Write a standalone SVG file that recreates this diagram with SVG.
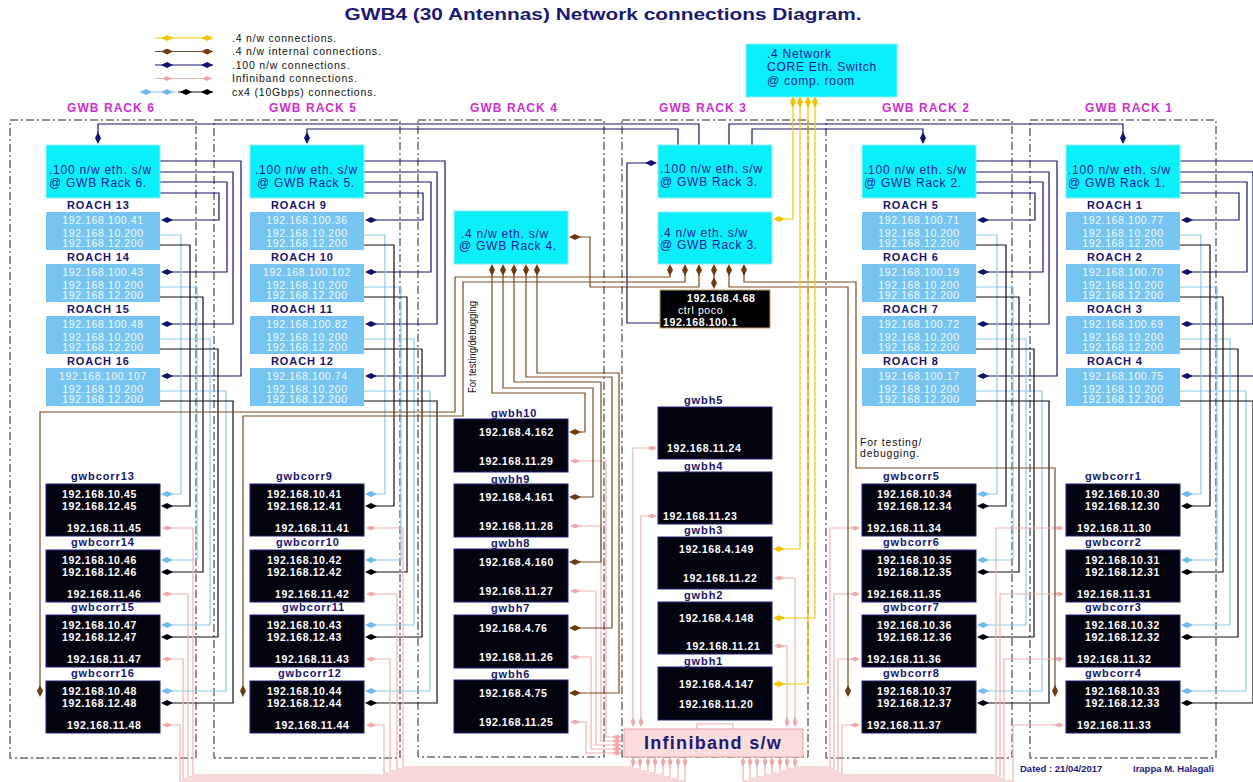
<svg xmlns="http://www.w3.org/2000/svg" width="1253" height="782" viewBox="0 0 1253 782">
<defs>
<style>
text{font-family:"Liberation Sans",Arial,sans-serif}
.sw{fill:#0aeffa;stroke:#8feef5;stroke-width:1}
.ro{fill:#76c5f0}
.bk{fill:#030310;stroke:#20207a;stroke-width:1}
.swt{font-size:12px;letter-spacing:0.75px;fill:#1c1c96}
.ip{font-size:10.5px;letter-spacing:0.6px;fill:#f4faff}
.ipb{font-size:10.5px;letter-spacing:0.6px;fill:#fff;font-weight:bold}
.lbl{font-size:11px;font-weight:bold;letter-spacing:0.9px;fill:#16166a}
.rk{font-size:12px;font-weight:bold;letter-spacing:1.05px;fill:#cc30cc;text-anchor:middle}
.lg{font-size:10.5px;letter-spacing:0.8px;fill:#111}
.rack{fill:none;stroke:#222;stroke-width:1;stroke-dasharray:8,3,2,3}
.c{fill:none;stroke-width:1.2}
.nv{stroke:#14146e;marker-end:url(#mN)}
.cy{stroke:#8ccbe8;marker-end:url(#mC)}
.bl{stroke:#111;marker-end:url(#mK)}
.pk{stroke:#f0b2b2;marker-start:url(#mP);marker-end:url(#mP)}
.br{stroke:#7a4a20;marker-start:url(#mB);marker-end:url(#mB)}
.ye{stroke:#f0c800;marker-start:url(#mY);marker-end:url(#mY)}
</style>
<marker id="mN" viewBox="-6 -3 12 6" refX="0" refY="0" markerWidth="12" markerHeight="6" markerUnits="userSpaceOnUse" orient="auto"><path d="M-6,0L0,-3L6,0L0,3Z" fill="#14146e"/></marker>
<marker id="mC" viewBox="-6 -3 12 6" refX="0" refY="0" markerWidth="12" markerHeight="6" markerUnits="userSpaceOnUse" orient="auto"><path d="M-6,0L0,-3L6,0L0,3Z" fill="#6ebce8"/></marker>
<marker id="mK" viewBox="-6 -3 12 6" refX="0" refY="0" markerWidth="12" markerHeight="6" markerUnits="userSpaceOnUse" orient="auto"><path d="M-6,0L0,-3L6,0L0,3Z" fill="#000"/></marker>
<marker id="mB" viewBox="-6 -3 12 6" refX="0" refY="0" markerWidth="12" markerHeight="6" markerUnits="userSpaceOnUse" orient="auto"><path d="M-6,0L0,-3L6,0L0,3Z" fill="#6e3a12"/></marker>
<marker id="mY" viewBox="-6 -3 12 6" refX="0" refY="0" markerWidth="12" markerHeight="6" markerUnits="userSpaceOnUse" orient="auto"><path d="M-6,0L0,-3L6,0L0,3Z" fill="#f0c400"/></marker>
<marker id="mP" viewBox="-5 -2.5 10 5" refX="0" refY="0" markerWidth="10" markerHeight="5" markerUnits="userSpaceOnUse" orient="auto"><path d="M-5,0L0,-2.5L5,0L0,2.5Z" fill="#eeaaaa"/></marker>
</defs>
<rect width="1253" height="782" fill="#fff"/>

<g id="title"><text x="603" y="20" text-anchor="middle" font-size="16" font-weight="bold" fill="#1a1a70" textLength="517" lengthAdjust="spacingAndGlyphs">GWB4 (30 Antennas) Network connections Diagram.</text></g>

<g id="legend">
<path class="c" stroke="#f0c800" marker-mid="url(#mY)" d="M155,38L167,38L207,38L213,38"/>
<path class="c" stroke="#7a4a20" marker-mid="url(#mB)" d="M155,51.5L167,51.5L207,51.5L213,51.5"/>
<path class="c" stroke="#14146e" marker-mid="url(#mN)" d="M155,65L167,65L207,65L213,65"/>
<path class="c" stroke="#f0b2b2" marker-mid="url(#mP)" d="M155,78.5L167,78.5L207,78.5L213,78.5"/>
<path class="c" stroke="#8ccbe8" marker-mid="url(#mC)" d="M140,92L146,92L167,92L177,92"/>
<path class="c" stroke="#111" marker-mid="url(#mK)" d="M178,92L186,92L207,92L213,92"/>
<text class="lg" x="232" y="41.5">.4 n/w connections.</text>
<text class="lg" x="232" y="55">.4 n/w internal connections.</text>
<text class="lg" x="232" y="68.5">.100 n/w connections.</text>
<text class="lg" x="232" y="82">Infiniband connections.</text>
<text class="lg" x="232" y="95.5">cx4 (10Gbps) connections.</text>
</g>

<g id="racks">
<g id="rack6"><rect class="rack" x="10" y="120" width="186" height="638"/><text class="rk" x="111" y="112">GWB RACK 6</text></g>
<g id="rack5"><rect class="rack" x="214" y="120" width="186" height="638"/><text class="rk" x="313" y="112">GWB RACK 5</text></g>
<g id="rack4"><rect class="rack" x="418" y="120" width="186" height="637"/><text class="rk" x="514" y="112">GWB RACK 4</text></g>
<g id="rack3"><rect class="rack" x="622" y="120" width="186" height="637"/><text class="rk" x="703" y="112">GWB RACK 3</text></g>
<g id="rack2"><rect class="rack" x="826" y="120" width="186" height="638"/><text class="rk" x="926" y="112">GWB RACK 2</text></g>
<g id="rack1"><rect class="rack" x="1030" y="120" width="186" height="638"/><text class="rk" x="1129" y="112">GWB RACK 1</text></g>
</g>

<g id="connectors">
<g class="c nv">
<path d="M160,193H219V220H167"/><path d="M160,182H227V272H167"/><path d="M160,172H233V324H167"/><path d="M160,161H241V376H167"/>
<path d="M364,193H423V220H371"/><path d="M364,182H431V272H371"/><path d="M364,172H437V324H371"/><path d="M364,161H445V376H371"/>
<path d="M976,193H1035V220H983"/><path d="M976,182H1043V272H983"/><path d="M976,172H1049V324H983"/><path d="M976,161H1057V376H983"/>
<path d="M1180,193H1239V220H1187"/><path d="M1180,182H1247V272H1187"/><path d="M1180,172H1253V324H1187"/><path d="M1180,161H1261V376H1187"/>
<path d="M699,145V124H98V138"/><path d="M678,145V129H307V138"/><path d="M752,145V129H923V138"/><path d="M729,145V124H1123V138"/>
<path d="M660,323H627V163H651"/>
</g>
<g class="c cy">
<path d="M160,235H181V494H167"/><path d="M160,287H197V560H167"/><path d="M160,339H210V625H167"/><path d="M160,391H226V691H167"/>
<path d="M364,235H385V494H371"/><path d="M364,287H401V560H371"/><path d="M364,339H414V625H371"/><path d="M364,391H430V691H371"/>
<path d="M976,235H997V494H983"/><path d="M976,287H1013V560H983"/><path d="M976,339H1026V625H983"/><path d="M976,391H1042V691H983"/>
<path d="M1180,235H1201V494H1187"/><path d="M1180,287H1217V560H1187"/><path d="M1180,339H1230V625H1187"/><path d="M1180,391H1246V691H1187"/>
</g>
<g class="c bl">
<path d="M160,245H190V506H167"/><path d="M160,297H203V572H167"/><path d="M160,349H218V637H167"/><path d="M160,401H233V703H167"/>
<path d="M364,245H394V506H371"/><path d="M364,297H407V572H371"/><path d="M364,349H422V637H371"/><path d="M364,401H437V703H371"/>
<path d="M976,245H1006V506H983"/><path d="M976,297H1019V572H983"/><path d="M976,349H1034V637H983"/><path d="M976,401H1049V703H983"/>
<path d="M1180,245H1210V506H1187"/><path d="M1180,297H1223V572H1187"/><path d="M1180,349H1238V637H1187"/><path d="M1180,401H1253V703H1187"/>
</g>
<g class="c pk">
<path d="M167,528H193V775H663V762"/><path d="M167,594H188V777H670V762"/><path d="M167,659H183V779H678V762"/><path d="M167,725H180V781H685V762"/>
<path d="M371,528H403V767H633V762"/><path d="M371,594H397V769H640V762"/><path d="M371,659H390V771H648V762"/><path d="M371,725H384V773H655V762"/>
<path d="M855,528H830V767H795V762"/><path d="M855,594H834V769H787V762"/><path d="M855,659H838V771H780V762"/><path d="M855,725H842V773H772V762"/>
<path d="M1059,528H996V775H765V762"/><path d="M1059,594H1000V777H757V762"/><path d="M1059,659H1004V779H750V762"/><path d="M1059,725H1013V781H743V762"/>
<path d="M575,461H606V737H617"/><path d="M575,526H601V741H617"/><path d="M575,591H596V745H617"/><path d="M575,657H591V749H617"/><path d="M575,722H586V753H617"/>
<path d="M652,448H633V722"/><path d="M652,516H641V722"/><path d="M779,578H795V722"/><path d="M779,646H787V722"/>
</g>
<path class="c" stroke="#f0b2b2" d="M697,729V724H733V729"/>
<g class="c br">
<path d="M492,270V393H585V432H575"/><path d="M503,270V388H593V497H575"/><path d="M514,270V382H601V562H575"/><path d="M526,270V377H612V628H575"/><path d="M537,270V373H619V693H575"/>
<path d="M670,270V277H455V412H40V691"/><path d="M685,270V282H463V416H243V691"/><path d="M699,270V287H590V237H575"/><path d="M714,270V283"/>
<path d="M729,270V287H848V691"/><path d="M744,270V282H856V468H1055V691"/>
</g>
<g class="c ye">
<path d="M793,102V219H779"/><path d="M800,102V549H779"/><path d="M815,102V618H779"/><path d="M808,102V684H779"/>
</g>
</g>

<g id="core-switch"><rect class="sw" x="746" y="44" width="151" height="53"/><text class="swt" x="767" y="58">.4 Network</text><text class="swt" x="767" y="71">CORE Eth. Switch</text><text class="swt" x="767" y="85">@ comp. room</text></g>

<g id="sw-rack6"><rect class="sw" x="46" y="145" width="114" height="53"/><text class="swt" x="49" y="174">.100 n/w eth. s/w</text><text class="swt" x="49" y="187">@ GWB Rack 6.</text></g>
<g id="roach13"><text class="lbl" x="67" y="209">ROACH 13</text><rect class="ro" x="46" y="212" width="114" height="38"/><g class="ip" text-anchor="middle"><text x="103" y="224">192.168.100.41</text><text x="103" y="237">192.168.10.200</text><text x="103" y="247">192.168.12.200</text></g></g>
<g id="roach14"><text class="lbl" x="67" y="261">ROACH 14</text><rect class="ro" x="46" y="264" width="114" height="38"/><g class="ip" text-anchor="middle"><text x="103" y="276">192.168.100.43</text><text x="103" y="289">192.168.10.200</text><text x="103" y="299">192.168.12.200</text></g></g>
<g id="roach15"><text class="lbl" x="67" y="313">ROACH 15</text><rect class="ro" x="46" y="316" width="114" height="38"/><g class="ip" text-anchor="middle"><text x="103" y="328">192.168.100.48</text><text x="103" y="341">192.168.10.200</text><text x="103" y="351">192.168.12.200</text></g></g>
<g id="roach16"><text class="lbl" x="67" y="365">ROACH 16</text><rect class="ro" x="46" y="368" width="114" height="38"/><g class="ip" text-anchor="middle"><text x="103" y="380">192.168.100.107</text><text x="103" y="393">192.168.10.200</text><text x="103" y="403">192.168.12.200</text></g></g>
<g id="gwbcorr13"><text class="lbl" x="71" y="480">gwbcorr13</text><rect class="bk" x="46" y="484" width="114" height="52"/><g class="ipb"><text x="62" y="498">192.168.10.45</text><text x="62" y="510">192.168.12.45</text><text x="67" y="532">192.168.11.45</text></g></g>
<g id="gwbcorr14"><text class="lbl" x="71" y="546">gwbcorr14</text><rect class="bk" x="46" y="550" width="114" height="52"/><g class="ipb"><text x="62" y="564">192.168.10.46</text><text x="62" y="576">192.168.12.46</text><text x="67" y="598">192.168.11.46</text></g></g>
<g id="gwbcorr15"><text class="lbl" x="71" y="611">gwbcorr15</text><rect class="bk" x="46" y="615" width="114" height="52"/><g class="ipb"><text x="62" y="629">192.168.10.47</text><text x="62" y="641">192.168.12.47</text><text x="67" y="663">192.168.11.47</text></g></g>
<g id="gwbcorr16"><text class="lbl" x="71" y="677">gwbcorr16</text><rect class="bk" x="46" y="681" width="114" height="52"/><g class="ipb"><text x="62" y="695">192.168.10.48</text><text x="62" y="707">192.168.12.48</text><text x="67" y="729">192.168.11.48</text></g></g>

<g id="sw-rack5"><rect class="sw" x="250" y="145" width="114" height="53"/><text class="swt" x="255" y="174">.100 n/w eth. s/w</text><text class="swt" x="257" y="187">@ GWB Rack 5.</text></g>
<g id="roach9"><text class="lbl" x="271" y="209">ROACH 9</text><rect class="ro" x="250" y="212" width="114" height="38"/><g class="ip" text-anchor="middle"><text x="307" y="224">192.168.100.36</text><text x="307" y="237">192.168.10.200</text><text x="307" y="247">192.168.12.200</text></g></g>
<g id="roach10"><text class="lbl" x="271" y="261">ROACH 10</text><rect class="ro" x="250" y="264" width="114" height="38"/><g class="ip" text-anchor="middle"><text x="307" y="276">192.168.100.102</text><text x="307" y="289">192.168.10.200</text><text x="307" y="299">192.168.12.200</text></g></g>
<g id="roach11"><text class="lbl" x="271" y="313">ROACH 11</text><rect class="ro" x="250" y="316" width="114" height="38"/><g class="ip" text-anchor="middle"><text x="307" y="328">192.168.100.82</text><text x="307" y="341">192.168.10.200</text><text x="307" y="351">192.168.12.200</text></g></g>
<g id="roach12"><text class="lbl" x="271" y="365">ROACH 12</text><rect class="ro" x="250" y="368" width="114" height="38"/><g class="ip" text-anchor="middle"><text x="307" y="380">192.168.100.74</text><text x="307" y="393">192.168.10.200</text><text x="307" y="403">192.168.12.200</text></g></g>
<g id="gwbcorr9"><text class="lbl" x="276" y="480">gwbcorr9</text><rect class="bk" x="250" y="484" width="114" height="52"/><g class="ipb"><text x="267" y="498">192.168.10.41</text><text x="267" y="510">192.168.12.41</text><text x="275" y="532">192.168.11.41</text></g></g>
<g id="gwbcorr10"><text class="lbl" x="276" y="546">gwbcorr10</text><rect class="bk" x="250" y="550" width="114" height="52"/><g class="ipb"><text x="267" y="564">192.168.10.42</text><text x="267" y="576">192.168.12.42</text><text x="275" y="598">192.168.11.42</text></g></g>
<g id="gwbcorr11"><text class="lbl" x="282" y="611">gwbcorr11</text><rect class="bk" x="250" y="615" width="114" height="52"/><g class="ipb"><text x="267" y="629">192.168.10.43</text><text x="267" y="641">192.168.12.43</text><text x="275" y="663">192.168.11.43</text></g></g>
<g id="gwbcorr12"><text class="lbl" x="278" y="677">gwbcorr12</text><rect class="bk" x="250" y="681" width="114" height="52"/><g class="ipb"><text x="267" y="695">192.168.10.44</text><text x="267" y="707">192.168.12.44</text><text x="275" y="729">192.168.11.44</text></g></g>

<g id="sw4-rack4"><rect class="sw" x="454" y="211" width="114" height="53"/><text class="swt" x="461" y="238">.4 n/w eth. s/w</text><text class="swt" x="459" y="250">@ GWB Rack 4.</text></g>
<g id="note-rack4"><text transform="translate(476,347) rotate(-90)" text-anchor="middle" font-size="11" fill="#111" textLength="92" lengthAdjust="spacingAndGlyphs">For testing/debugging</text></g>
<g id="gwbh10"><text class="lbl" x="491" y="417">gwbh10</text><rect class="bk" x="454" y="419" width="114" height="53"/><g class="ipb"><text x="479" y="436">192.168.4.162</text><text x="479" y="465">192.168.11.29</text></g></g>
<g id="gwbh9"><text class="lbl" x="491" y="483">gwbh9</text><rect class="bk" x="454" y="484" width="114" height="53"/><g class="ipb"><text x="479" y="501">192.168.4.161</text><text x="479" y="530">192.168.11.28</text></g></g>
<g id="gwbh8"><text class="lbl" x="491" y="547">gwbh8</text><rect class="bk" x="454" y="549" width="114" height="53"/><g class="ipb"><text x="479" y="566">192.168.4.160</text><text x="479" y="595">192.168.11.27</text></g></g>
<g id="gwbh7"><text class="lbl" x="491" y="612">gwbh7</text><rect class="bk" x="454" y="615" width="114" height="53"/><g class="ipb"><text x="479" y="632">192.168.4.76</text><text x="479" y="661">192.168.11.26</text></g></g>
<g id="gwbh6"><text class="lbl" x="491" y="678">gwbh6</text><rect class="bk" x="454" y="680" width="114" height="53"/><g class="ipb"><text x="479" y="697">192.168.4.75</text><text x="479" y="726">192.168.11.25</text></g></g>

<g id="sw100-rack3"><rect class="sw" x="658" y="145" width="114" height="53"/><text class="swt" x="660" y="173">.100 n/w eth. s/w</text><text class="swt" x="660" y="186">@ GWB Rack 3.</text></g>
<g id="sw4-rack3"><rect class="sw" x="658" y="212" width="114" height="52"/><text class="swt" x="660" y="237">.4 n/w eth. s/w</text><text class="swt" x="660" y="249">@ GWB Rack 3.</text></g>
<g id="ctrl-poco"><rect x="660" y="290" width="110" height="38" fill="#000" stroke="#c8a050"/><g class="ipb"><text x="687" y="302">192.168.4.68</text><text x="678" y="314" font-weight="normal">ctrl poco</text><text x="663" y="326">192.168.100.1</text></g></g>
<g id="gwbh5"><text class="lbl" x="684" y="404">gwbh5</text><rect class="bk" x="658" y="407" width="114" height="52"/><g class="ipb"><text x="667" y="452">192.168.11.24</text></g></g>
<g id="gwbh4"><text class="lbl" x="684" y="470">gwbh4</text><rect class="bk" x="658" y="472" width="114" height="52"/><g class="ipb"><text x="663" y="520">192.168.11.23</text></g></g>
<g id="gwbh3"><text class="lbl" x="684" y="534">gwbh3</text><rect class="bk" x="658" y="537" width="114" height="52"/><g class="ipb"><text x="679" y="553">192.168.4.149</text><text x="683" y="582">192.168.11.22</text></g></g>
<g id="gwbh2"><text class="lbl" x="684" y="599">gwbh2</text><rect class="bk" x="658" y="602" width="114" height="52"/><g class="ipb"><text x="679" y="622">192.168.4.148</text><text x="686" y="650">192.168.11.21</text></g></g>
<g id="gwbh1"><text class="lbl" x="684" y="665">gwbh1</text><rect class="bk" x="658" y="667" width="114" height="53"/><g class="ipb"><text x="679" y="688">192.168.4.147</text><text x="679" y="708">192.168.11.20</text></g></g>
<g id="infiniband"><rect x="624" y="729" width="179" height="28" fill="#fcdcdc" stroke="#eaa0a0"/><text x="713" y="749" text-anchor="middle" font-size="18" font-weight="bold" letter-spacing="1.3" fill="#1a1a78">Infiniband s/w</text></g>

<g id="sw-rack2"><rect class="sw" x="862" y="145" width="114" height="53"/><text class="swt" x="864" y="174">.100 n/w eth. s/w</text><text class="swt" x="864" y="187">@ GWB Rack 2.</text></g>
<g id="roach5"><text class="lbl" x="883" y="209">ROACH 5</text><rect class="ro" x="862" y="212" width="114" height="38"/><g class="ip" text-anchor="middle"><text x="919" y="224">192.168.100.71</text><text x="919" y="237">192.168.10.200</text><text x="919" y="247">192.168.12.200</text></g></g>
<g id="roach6"><text class="lbl" x="883" y="261">ROACH 6</text><rect class="ro" x="862" y="264" width="114" height="38"/><g class="ip" text-anchor="middle"><text x="919" y="276">192.168.100.19</text><text x="919" y="289">192.168.10.200</text><text x="919" y="299">192.168.12.200</text></g></g>
<g id="roach7"><text class="lbl" x="883" y="313">ROACH 7</text><rect class="ro" x="862" y="316" width="114" height="38"/><g class="ip" text-anchor="middle"><text x="919" y="328">192.168.100.72</text><text x="919" y="341">192.168.10.200</text><text x="919" y="351">192.168.12.200</text></g></g>
<g id="roach8"><text class="lbl" x="883" y="365">ROACH 8</text><rect class="ro" x="862" y="368" width="114" height="38"/><g class="ip" text-anchor="middle"><text x="919" y="380">192.168.100.17</text><text x="919" y="393">192.168.10.200</text><text x="919" y="403">192.168.12.200</text></g></g>
<g id="note-rack2"><text class="lg" x="860" y="446" letter-spacing="0.3">For testing/</text><text class="lg" x="860" y="457" letter-spacing="0.3">debugging.</text></g>
<g id="gwbcorr5"><text class="lbl" x="883" y="480">gwbcorr5</text><rect class="bk" x="862" y="484" width="114" height="52"/><g class="ipb"><text x="877" y="498">192.168.10.34</text><text x="877" y="510">192.168.12.34</text><text x="867" y="532">192.168.11.34</text></g></g>
<g id="gwbcorr6"><text class="lbl" x="883" y="546">gwbcorr6</text><rect class="bk" x="862" y="550" width="114" height="52"/><g class="ipb"><text x="877" y="564">192.168.10.35</text><text x="877" y="576">192.168.12.35</text><text x="867" y="598">192.168.11.35</text></g></g>
<g id="gwbcorr7"><text class="lbl" x="883" y="611">gwbcorr7</text><rect class="bk" x="862" y="615" width="114" height="52"/><g class="ipb"><text x="877" y="629">192.168.10.36</text><text x="877" y="641">192.168.12.36</text><text x="867" y="663">192.168.11.36</text></g></g>
<g id="gwbcorr8"><text class="lbl" x="883" y="677">gwbcorr8</text><rect class="bk" x="862" y="681" width="114" height="52"/><g class="ipb"><text x="877" y="695">192.168.10.37</text><text x="877" y="707">192.168.12.37</text><text x="867" y="729">192.168.11.37</text></g></g>

<g id="sw-rack1"><rect class="sw" x="1066" y="145" width="114" height="53"/><text class="swt" x="1068" y="174">.100 n/w eth. s/w</text><text class="swt" x="1068" y="187">@ GWB Rack 1.</text></g>
<g id="roach1"><text class="lbl" x="1087" y="209">ROACH 1</text><rect class="ro" x="1066" y="212" width="114" height="38"/><g class="ip" text-anchor="middle"><text x="1123" y="224">192.168.100.77</text><text x="1123" y="237">192.168.10.200</text><text x="1123" y="247">192.168.12.200</text></g></g>
<g id="roach2"><text class="lbl" x="1087" y="261">ROACH 2</text><rect class="ro" x="1066" y="264" width="114" height="38"/><g class="ip" text-anchor="middle"><text x="1123" y="276">192.168.100.70</text><text x="1123" y="289">192.168.10.200</text><text x="1123" y="299">192.168.12.200</text></g></g>
<g id="roach3"><text class="lbl" x="1087" y="313">ROACH 3</text><rect class="ro" x="1066" y="316" width="114" height="38"/><g class="ip" text-anchor="middle"><text x="1123" y="328">192.168.100.69</text><text x="1123" y="341">192.168.10.200</text><text x="1123" y="351">192.168.12.200</text></g></g>
<g id="roach4"><text class="lbl" x="1087" y="365">ROACH 4</text><rect class="ro" x="1066" y="368" width="114" height="38"/><g class="ip" text-anchor="middle"><text x="1123" y="380">192.168.100.75</text><text x="1123" y="393">192.168.10.200</text><text x="1123" y="403">192.168.12.200</text></g></g>
<g id="gwbcorr1"><text class="lbl" x="1085" y="480">gwbcorr1</text><rect class="bk" x="1066" y="484" width="114" height="52"/><g class="ipb"><text x="1085" y="498">192.168.10.30</text><text x="1085" y="510">192.168.12.30</text><text x="1077" y="532">192.168.11.30</text></g></g>
<g id="gwbcorr2"><text class="lbl" x="1085" y="546">gwbcorr2</text><rect class="bk" x="1066" y="550" width="114" height="52"/><g class="ipb"><text x="1085" y="564">192.168.10.31</text><text x="1085" y="576">192.168.12.31</text><text x="1077" y="598">192.168.11.31</text></g></g>
<g id="gwbcorr3"><text class="lbl" x="1085" y="611">gwbcorr3</text><rect class="bk" x="1066" y="615" width="114" height="52"/><g class="ipb"><text x="1085" y="629">192.168.10.32</text><text x="1085" y="641">192.168.12.32</text><text x="1077" y="663">192.168.11.32</text></g></g>
<g id="gwbcorr4"><text class="lbl" x="1085" y="677">gwbcorr4</text><rect class="bk" x="1066" y="681" width="114" height="52"/><g class="ipb"><text x="1085" y="695">192.168.10.33</text><text x="1085" y="707">192.168.12.33</text><text x="1077" y="729">192.168.11.33</text></g></g>

<g id="footer"><text x="1020" y="772" font-size="9.5" font-weight="bold" fill="#1a1a80">Dated : 21/04/2017</text><text x="1133" y="772" font-size="9.5" font-weight="bold" fill="#1a1a80">Irappa M. Halagali</text></g>
</svg>
